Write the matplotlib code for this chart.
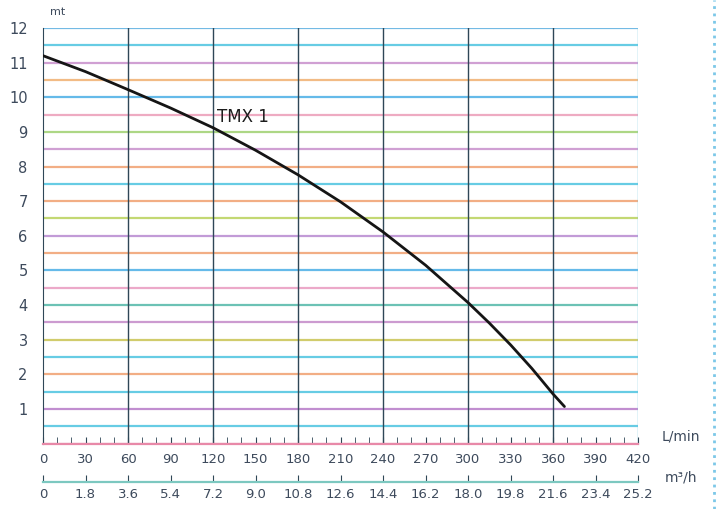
import numpy as np
import matplotlib.pyplot as plt
from matplotlib.lines import Line2D

# pump curve TMX 1
flow_lpm = [0, 30, 60, 90, 120, 150, 180, 210, 240, 270, 300, 315, 330, 345, 360, 368]
head_m = [11.2, 10.74, 10.22, 9.69, 9.12, 8.47, 7.76, 6.98, 6.11, 5.15, 4.07, 3.48, 2.85, 2.17, 1.43, 1.07]

x_ticks = list(range(0, 421, 30))
m3h_ticks = [0, 1.8, 3.6, 5.4, 7.2, 9.0, 10.8, 12.6, 14.4, 16.2, 18.0, 19.8, 21.6, 23.4, 25.2]
m3h_labels = ['0', '1.8', '3.6', '5.4', '7.2', '9.0', '10.8', '12.6', '14.4', '16.2',
              '18.0', '19.8', '21.6', '23.4', '25.2']
y_ticks = list(range(1, 13))

# colours of the horizontal lines, one per half metre from 0 to 12
grid_cols = ['#e889a8', '#4cc3e0', '#b77ac8', '#4cc3e0', '#f0a070', '#4cc3e0',
             '#c9c452', '#c48ac8', '#52b8a8', '#e99ac0', '#4aaee6', '#f0a070',
             '#b88ad0', '#b9d25a', '#f0a070', '#4cc3e0', '#f0a070', '#c890cc',
             '#9fd070', '#ec9cb8', '#4aaee6', '#f0b070', '#c890cc', '#4cc3e0',
             '#5aaee0']
txt = '#3d4a5c'

fig = plt.figure(figsize=(7.17, 5.09), dpi=100)
ax = fig.add_axes([0.060, 0.1285, 0.830, 0.8165])
ax.set_xlim(0, 420)
ax.set_ylim(0, 12)

for i, c in enumerate(grid_cols):
    ax.axhline(i * 0.5, color=c, lw=1.6, alpha=0.85, zorder=1)
for xv in range(60, 420, 60):
    ax.axvline(xv, color='#2f4757', lw=1.0, zorder=2)
ax.axvline(420, color='#6cc6e0', lw=1.0, zorder=2)

ax.plot(flow_lpm, head_m, color='#151515', lw=2.0, zorder=5, solid_capstyle='round')
ax.text(123, 9.44, 'TMX 1', fontsize=12, color='#1c1c1c', va='center', zorder=6)

for s in ['top', 'right']:
    ax.spines[s].set_visible(False)
ax.spines['left'].set_color('#2f4757')
ax.spines['bottom'].set_color('#e889a8')
ax.spines['bottom'].set_linewidth(1.6)

ax.set_xticks(x_ticks)
ax.set_xticks(range(0, 421, 10), minor=True)
ax.tick_params(axis='x', which='both', direction='in', length=5, color='#2f4757',
               labelsize=9.5, labelcolor=txt, pad=7)
ax.set_yticks(y_ticks)
ax.tick_params(axis='y', length=0, labelsize=10.5, labelcolor=txt, pad=11)

# second flow scale in m3/h
sec = ax.secondary_xaxis(-0.0924, functions=(lambda x: x * 0.06, lambda x: x / 0.06))
sec.set_xticks(m3h_ticks, labels=m3h_labels)
sec.tick_params(direction='in', length=5, color='#2f4757', labelsize=9.5,
                labelcolor=txt, pad=4)
sec.spines['bottom'].set_color('#7cc8c0')
sec.spines['bottom'].set_linewidth(1.6)

ax.text(5, 12.38, 'mt', fontsize=8, color=txt, clip_on=False)
fig.text(0.950, 0.135, 'L/min', fontsize=10, color=txt, ha='center')
fig.text(0.950, 0.054, 'm³/h', fontsize=10, color=txt, ha='center')

fig.add_artist(Line2D([0.996, 0.996], [0, 1], color='#7cc8e8', lw=2, ls=':',
                      transform=fig.transFigure))

fig.savefig('out.png', dpi=100)
